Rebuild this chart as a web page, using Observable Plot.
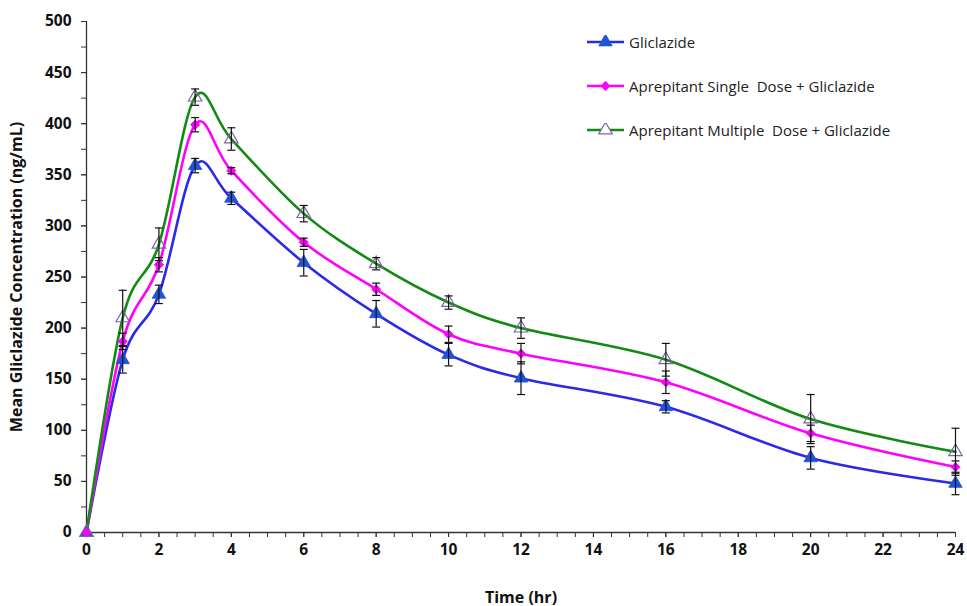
<!DOCTYPE html>
<html>
<head>
<meta charset="utf-8">
<script src="https://cdn.jsdelivr.net/npm/d3@7"></script>
<script src="https://cdn.jsdelivr.net/npm/@observablehq/plot@0.6"></script>
<style>
  html, body { margin: 0; padding: 0; background: #fff; }
  #wrap { position: relative; width: 967px; height: 606px; }
  #wrap svg { display: block; }
  [aria-label="y-axis label"] text, [aria-label="x-axis label"] text { font-size: 16px; }
  #legend { position: absolute; left: 587px; top: 30px; font-family: "Open Sans", sans-serif; font-size: 15px; color: #222; }
  #legend .row { display: flex; align-items: center; height: 24px; margin-bottom: 20px; }
  #legend svg { margin-right: 4px; }
</style>
</head>
<body>
<div id="wrap"></div>
<script>
// ---- data ----
const time = [0, 1, 2, 3, 4, 6, 8, 10, 12, 16, 20, 24];
const seriesNames = ["Gliclazide", "Aprepitant Single  Dose + Gliclazide", "Aprepitant Multiple  Dose + Gliclazide"];
const gliclazide     = [0, 169, 233, 359, 327, 264, 214, 174, 151, 123, 73, 48];
const gliclazideSD   = [0, 13, 9, 7, 6, 13, 13, 11, 16, 6, 11, 11];
const singleDose     = [0, 187, 262, 399, 354, 284, 238, 194, 175, 147, 97, 64];
const singleDoseSD   = [0, 8, 7, 7, 3, 4, 6, 8, 10, 11, 8, 6];
const multipleDose   = [0, 210, 282, 426, 385, 312, 263, 225, 200, 169, 111, 79];
const multipleDoseSD = [0, 27, 16, 8, 11, 8, 6, 6.5, 10, 16, 24, 23];
const yTicks = [0, 50, 100, 150, 200, 250, 300, 350, 400, 450, 500];
const xTicks = [0, 2, 4, 6, 8, 10, 12, 14, 16, 18, 20, 22, 24];

// ---- styles ----
const lineColors   = ["#2a2ae8", "#ff00ff", "#138a13"];
const markerFill   = ["#2153d4", "#ff00ff", "none"];
const markerStroke = ["#2153d4", "#ff00ff", "#8064a2"];
const markerSymbol = ["triangle", "diamond2", "triangle"];

const allValues = [gliclazide, singleDose, multipleDose];
const allSD = [gliclazideSD, singleDoseSD, multipleDoseSD];
const rows = [];
allValues.forEach((vals, s) => {
  vals.forEach((v, i) => rows.push({series: s, t: time[i], v, lo: v - allSD[s][i], hi: v + allSD[s][i], sd: allSD[s][i]}));
});
const errRows = rows.filter(d => d.sd > 0);

const capSymbol = {
  draw(ctx, size) {
    const r = Math.sqrt(size / Math.PI);
    ctx.moveTo(-r, 0);
    ctx.lineTo(r, 0);
  }
};

const yMinor = d3.range(0, 501, 25);
const xMinor = d3.range(0, 24.01, 0.5);

const marks = [
  Plot.axisY(yMinor, {tickSize: 5, tickFormat: () => "", label: null, stroke: "#333"}),
  Plot.axisY(yTicks, {tickSize: 5, tickPadding: 10, label: "Mean Gliclazide Concentration (ng/mL)",
    labelAnchor: "center", labelArrow: "none", labelOffset: 76, stroke: "#333", fill: "#111"}),
  Plot.axisX(xMinor, {tickSize: 5, tickFormat: () => "", label: null, stroke: "#333"}),
  Plot.axisX(xTicks, {tickSize: 5, tickPadding: 6, label: "Time (hr)",
    labelAnchor: "center", labelArrow: "none", labelOffset: 70, stroke: "#333", fill: "#111"}),
  Plot.ruleX([0], {stroke: "#333", strokeWidth: 1.3}),
  Plot.ruleY([0], {stroke: "#333", strokeWidth: 1.3})
];
[0, 1, 2].forEach(s => {
  const data = rows.filter(d => d.series === s);
  marks.push(Plot.line(data, {x: "t", y: "v", curve: "cardinal", stroke: lineColors[s], strokeWidth: 2.6}));
});
[0, 1, 2].forEach(s => {
  const data = rows.filter(d => d.series === s);
  marks.push(Plot.dot(data, {x: "t", y: "v", symbol: markerSymbol[s], r: s === 1 ? 4.2 : 5,
    fill: markerFill[s], stroke: markerStroke[s], strokeWidth: s === 2 ? 1.2 : 0.8}));
});
marks.push(Plot.ruleX(errRows, {x: "t", y1: "lo", y2: "hi", stroke: "#111", strokeWidth: 1.2}));
marks.push(Plot.dot(errRows, {x: "t", y: "lo", symbol: capSymbol, r: 4, stroke: "#111", strokeWidth: 1.2}));
marks.push(Plot.dot(errRows, {x: "t", y: "hi", symbol: capSymbol, r: 4, stroke: "#111", strokeWidth: 1.2}));

const chart = Plot.plot({
  width: 967,
  height: 606,
  marginLeft: 86,
  marginRight: 12,
  marginTop: 21,
  marginBottom: 74,
  style: {fontFamily: "'Open Sans', sans-serif", fontSize: "15.5px", fontWeight: "bold", color: "#111", background: "#fff"},
  x: {domain: [0, 24]},
  y: {domain: [0, 500]},
  marks
});
document.getElementById("wrap").appendChild(chart);

// ---- legend ----
const legend = document.createElement("div");
legend.id = "legend";
seriesNames.forEach((name, s) => {
  const row = document.createElement("div");
  row.className = "row";
  const sw = d3.create("svg").attr("width", 38).attr("height", 14);
  sw.append("line").attr("x1", 0).attr("x2", 37).attr("y1", 7).attr("y2", 7)
    .attr("stroke", lineColors[s]).attr("stroke-width", 2.6);
  const sym = s === 1 ? d3.symbolDiamond2 : d3.symbolTriangle;
  const r = s === 1 ? 4.2 : 5;
  sw.append("path").attr("transform", "translate(18.5,7)")
    .attr("d", d3.symbol(sym, Math.PI * r * r)())
    .attr("fill", markerFill[s] === "none" ? "#fff" : markerFill[s])
    .attr("stroke", markerStroke[s]).attr("stroke-width", s === 2 ? 1.2 : 0.8);
  row.appendChild(sw.node());
  const label = document.createElement("span");
  label.textContent = name;
  label.style.whiteSpace = "pre";
  row.appendChild(label);
  legend.appendChild(row);
});
document.getElementById("wrap").appendChild(legend);
</script>
</body>
</html>
